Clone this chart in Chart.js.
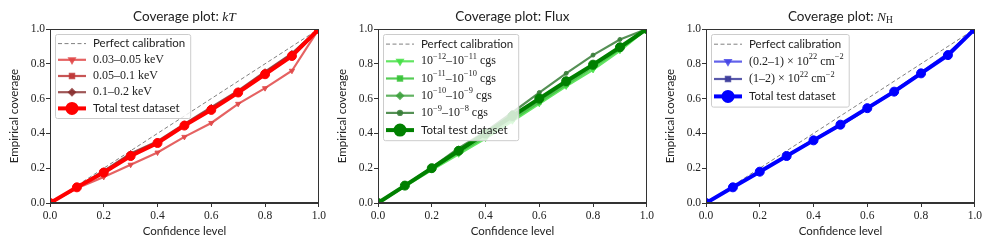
<!DOCTYPE html>
<html>
<head>
<meta charset="utf-8">
<script src="https://cdn.jsdelivr.net/npm/chart.js@4.4.1/dist/chart.umd.min.js"></script>
<style>
html, body { margin: 0; padding: 0; background: #fff; }
#wrap { position: relative; width: 997px; height: 249px; }
.panel { position: absolute; top: 0; width: 328px; height: 249px; }
</style>
</head>
<body>
<div id="wrap">
  <div class="panel" style="left:0"><canvas id="ktChart"></canvas></div>
  <div class="panel" style="left:328px"><canvas id="fluxChart"></canvas></div>
  <div class="panel" style="left:656px"><canvas id="nhChart"></canvas></div>
</div>
<script>
// shared x values and tick labels
const confidence = [0.0, 0.1, 0.2, 0.3, 0.4, 0.5, 0.6, 0.7, 0.8, 0.9, 1.0];
const tickValues = [0.0, 0.2, 0.4, 0.6, 0.8, 1.0];
const perfect = [0.0, 0.1, 0.2, 0.3, 0.4, 0.5, 0.6, 0.7, 0.8, 0.9, 1.0];

// kT panel
const ktLabels = ['0.03–0.05 keV', '0.05–0.1 keV', '0.1–0.2 keV'];
const ktBin1 = [0, 0.085, 0.15, 0.22, 0.29, 0.38, 0.46, 0.57, 0.66, 0.76, 1.0];
const ktBin2 = [0, 0.09, 0.18, 0.28, 0.35, 0.45, 0.545, 0.64, 0.75, 0.855, 1.0];
const ktBin3 = [0, 0.09, 0.185, 0.285, 0.355, 0.455, 0.55, 0.645, 0.755, 0.86, 1.0];
const ktTotal = [0, 0.09, 0.175, 0.27, 0.345, 0.445, 0.535, 0.635, 0.74, 0.845, 1.0];

// Flux panel
const fluxLabels = ['10^{−12}–10^{−11} cgs', '10^{−11}–10^{−10} cgs', '10^{−10}–10^{−9} cgs', '10^{−9}–10^{−8} cgs'];
const fluxBin1 = [0, 0.095, 0.19, 0.28, 0.37, 0.47, 0.57, 0.67, 0.765, 0.875, 1.0];
const fluxBin2 = [0, 0.1, 0.195, 0.29, 0.38, 0.48, 0.58, 0.68, 0.78, 0.885, 1.0];
const fluxBin3 = [0, 0.1, 0.2, 0.3, 0.39, 0.49, 0.59, 0.69, 0.79, 0.89, 1.0];
const fluxBin4 = [0, 0.1, 0.205, 0.315, 0.41, 0.52, 0.635, 0.745, 0.85, 0.94, 1.0];
const fluxTotal = [0, 0.1, 0.2, 0.3, 0.4, 0.5, 0.6, 0.7, 0.795, 0.895, 1.0];

// NH panel
const nhLabels = ['(0.2–1) × 10^{22} cm^{−2}', '(1–2) × 10^{22} cm^{−2}'];
const nhBin1 = [0, 0.09, 0.18, 0.27, 0.365, 0.45, 0.545, 0.645, 0.75, 0.86, 1.0];
const nhBin2 = [0, 0.09, 0.18, 0.27, 0.36, 0.445, 0.54, 0.64, 0.745, 0.855, 1.0];
const nhTotal = [0, 0.09, 0.18, 0.27, 0.36, 0.45, 0.545, 0.64, 0.745, 0.85, 1.0];

const SANS = 'Lato';
const SERIF = 'Liberation Serif';

const toPoints = (ys) => confidence.map((x, i) => ({ x: x, y: ys[i] }));

// split "a^{b}c_{d}\it{e}" into styled pieces
function parseRich(text) {
    const parts = text.split(/(\^\{[^}]*\}|_\{[^}]*\}|\\it\{[^}]*\})/).filter(p => p !== '');
    return parts.map(p => {
        if (p.startsWith('^{')) return { t: p.slice(2, -1), kind: 'sup' };
        if (p.startsWith('_{')) return { t: p.slice(2, -1), kind: 'sub' };
        if (p.startsWith('\\it{')) return { t: p.slice(4, -1), kind: 'it' };
        return { t: p, kind: 'normal' };
    });
}

function segFont(seg, size, family) {
    const small = seg.kind === 'sup' || seg.kind === 'sub';
    const s = small ? size * 0.7 : size;
    return (seg.kind === 'it' ? 'italic ' : '') + s + 'px "' + family + '"';
}

function richWidth(ctx, segs, size, family) {
    let w = 0;
    segs.forEach(seg => { ctx.font = segFont(seg, size, family); w += ctx.measureText(seg.t).width; });
    return w;
}

function drawRich(ctx, segs, x, y, size, family) {
    ctx.textBaseline = 'middle';
    ctx.textAlign = 'left';
    segs.forEach(seg => {
        ctx.font = segFont(seg, size, family);
        let dy = 0;
        if (seg.kind === 'sup') dy = -size * 0.38;
        if (seg.kind === 'sub') dy = size * 0.25;
        ctx.fillText(seg.t, x, y + dy);
        x += ctx.measureText(seg.t).width;
    });
}

const decor = {
    id: 'decor',
    afterDatasetsDraw(chart, args, opts) {
        const { ctx, chartArea: a } = chart;
        ctx.save();
        // full box like matplotlib spines
        ctx.strokeStyle = '#333';
        ctx.lineWidth = 1;
        ctx.strokeRect(Math.round(a.left) + 0.5, Math.round(a.top) + 0.5,
            Math.round(a.right - a.left) - 1, Math.round(a.bottom - a.top) - 1);

        // legend in the upper left corner
        const sansSize = 11.5, mathSize = 12;
        const items = chart.data.datasets.map(ds => ({
            ds: ds,
            segs: ds.math ? parseRich(ds.label) : [{ t: ds.label, kind: 'normal' }],
            family: ds.math ? SERIF : SANS,
            size: ds.math ? mathSize : sansSize
        }));
        let textW = 0;
        items.forEach(it => { textW = Math.max(textW, richWidth(ctx, it.segs, it.size, it.family)); });
        const bx = a.left + 5, by = a.top + 5;
        const bw = 38 + textW + 5;
        const bh = 3 + items.length * opts.rowHeight;
        ctx.fillStyle = 'rgba(255,255,255,0.8)';
        ctx.strokeStyle = '#cccccc';
        ctx.beginPath();
        ctx.roundRect(bx + 0.5, by + 0.5, bw, bh, 2);
        ctx.fill();
        ctx.stroke();
        items.forEach((it, i) => {
            const ds = it.ds;
            const cy = by + 1.5 + opts.rowHeight * (i + 0.5);
            ctx.strokeStyle = ds.borderColor;
            ctx.lineWidth = ds.borderWidth;
            ctx.setLineDash(ds.borderDash || []);
            ctx.beginPath();
            ctx.moveTo(bx + 3, cy);
            ctx.lineTo(bx + 31, cy);
            ctx.stroke();
            ctx.setLineDash([]);
            if (ds.pointRadius > 0) {
                ctx.fillStyle = ds.pointBackgroundColor;
                ctx.strokeStyle = ds.borderColor;
                Chart.helpers.drawPoint(ctx, {
                    pointStyle: ds.pointStyle, rotation: ds.pointRotation || 0,
                    radius: ds.pointRadius, borderWidth: 1
                }, bx + 17, cy);
            }
            ctx.fillStyle = '#222';
            drawRich(ctx, it.segs, bx + 38, cy, it.size, it.family);
        });

        // title
        const titleSegs = [{ t: 'Coverage plot: ', kind: 'normal', family: SANS }]
            .concat(parseRich(opts.titleMath).map(s => Object.assign(s, { family: opts.titleFamily })));
        const tSize = 13.5;
        let tw = 0;
        titleSegs.forEach(s => { ctx.font = segFont(s, tSize, s.family); tw += ctx.measureText(s.t).width; });
        let tx = (a.left + a.right) / 2 - tw / 2;
        ctx.fillStyle = '#222';
        ctx.textBaseline = 'middle';
        titleSegs.forEach(s => {
            ctx.font = segFont(s, tSize, s.family);
            const dy = s.kind === 'sub' ? tSize * 0.28 : 0;
            ctx.fillText(s.t, tx, 17 + dy);
            tx += ctx.measureText(s.t).width;
        });
        ctx.restore();
    }
};

function perfectSet() {
    return {
        label: 'Perfect calibration', data: toPoints(perfect), math: false,
        borderColor: '#808080', borderWidth: 1, borderDash: [4, 2.5],
        pointRadius: 0, order: 10
    };
}

function binSet(label, ys, color, style, rot, radius, order) {
    return {
        label: label, data: toPoints(ys), math: true,
        borderColor: color, borderWidth: 2.2,
        pointStyle: style, pointRotation: rot, pointRadius: radius,
        pointBackgroundColor: color, pointBorderColor: color, pointBorderWidth: 1,
        order: order
    };
}

function totalSet(ys, color) {
    return {
        label: 'Total test dataset', data: toPoints(ys), math: false,
        borderColor: color, borderWidth: 4,
        pointStyle: 'circle', pointRadius: 4.5,
        pointBackgroundColor: color, pointBorderColor: color, pointBorderWidth: 1,
        order: 0
    };
}

function makeChart(id, datasets, titleMath, titleFamily, rowHeight) {
    const ctx = document.getElementById(id).getContext('2d');
    return new Chart(ctx, {
        type: 'line',
        data: { datasets: datasets },
        plugins: [decor],
        options: {
            responsive: true,
            maintainAspectRatio: false,
            animation: false,
            events: [],
            layout: { padding: { left: 0, right: 7, top: 29, bottom: 0 } },
            elements: { line: { tension: 0 } },
            datasets: { line: { clip: 0 } },
            plugins: {
                legend: { display: false },
                tooltip: { enabled: false },
                decor: { titleMath: titleMath, titleFamily: titleFamily, rowHeight: rowHeight }
            },
            scales: {
                x: {
                    type: 'linear', min: 0, max: 1,
                    afterBuildTicks: (scale) => { scale.ticks = tickValues.map(v => ({ value: v })); },
                    afterFit: (scale) => { scale.height = 46; },
                    ticks: {
                        padding: 2, color: '#222',
                        font: { family: SERIF, size: 11.5 },
                        callback: (v) => v.toFixed(1)
                    },
                    grid: { drawOnChartArea: false, drawTicks: true, tickLength: 4, color: '#333' },
                    border: { color: '#333' },
                    title: {
                        display: true, text: 'Confidence level', color: '#222',
                        font: { family: SANS, size: 11.5 }, padding: { top: 1, bottom: 11 }
                    }
                },
                y: {
                    type: 'linear', min: 0, max: 1,
                    afterBuildTicks: (scale) => { scale.ticks = tickValues.map(v => ({ value: v })); },
                    afterFit: (scale) => { scale.width = 50; },
                    ticks: {
                        padding: 1, color: '#222',
                        font: { family: SERIF, size: 11.5 },
                        callback: (v) => v.toFixed(1)
                    },
                    grid: { drawOnChartArea: false, drawTicks: true, tickLength: 4, color: '#333' },
                    border: { color: '#333' },
                    title: {
                        display: true, text: 'Empirical coverage', color: '#222',
                        font: { family: SANS, size: 11.5 }, padding: { top: 7, bottom: 0 }
                    }
                }
            }
        }
    });
}

document.addEventListener('DOMContentLoaded', () => {
    makeChart('ktChart', [
        perfectSet(),
        binSet(ktLabels[0], ktBin1, 'rgba(225,70,70,0.85)', 'triangle', 180, 3, 3),
        binSet(ktLabels[1], ktBin2, 'rgba(190,55,55,0.85)', 'rect', 0, 3, 2),
        binSet(ktLabels[2], ktBin3, 'rgba(135,45,45,0.8)', 'rectRot', 0, 3, 1),
        totalSet(ktTotal, '#ff0000')
    ], '\\it{kT}', SERIF, 16.2);

    makeChart('fluxChart', [
        perfectSet(),
        binSet(fluxLabels[0], fluxBin1, 'rgba(70,225,70,0.85)', 'triangle', 180, 3, 4),
        binSet(fluxLabels[1], fluxBin2, 'rgba(55,195,55,0.85)', 'rect', 0, 3, 3),
        binSet(fluxLabels[2], fluxBin3, 'rgba(60,160,60,0.8)', 'rectRot', 0, 3, 2),
        binSet(fluxLabels[3], fluxBin4, 'rgba(55,125,55,0.85)', 'circle', 0, 2, 1),
        totalSet(fluxTotal, '#008000')
    ], 'Flux', SANS, 17.2);

    makeChart('nhChart', [
        perfectSet(),
        binSet(nhLabels[0], nhBin1, 'rgba(70,70,230,0.85)', 'triangle', 180, 3, 2),
        binSet(nhLabels[1], nhBin2, 'rgba(60,60,155,0.85)', 'rect', 0, 3, 1),
        totalSet(nhTotal, '#0000ff')
    ], '\\it{N}_{H}', SERIF, 17.4);
});
</script>
</body>
</html>
